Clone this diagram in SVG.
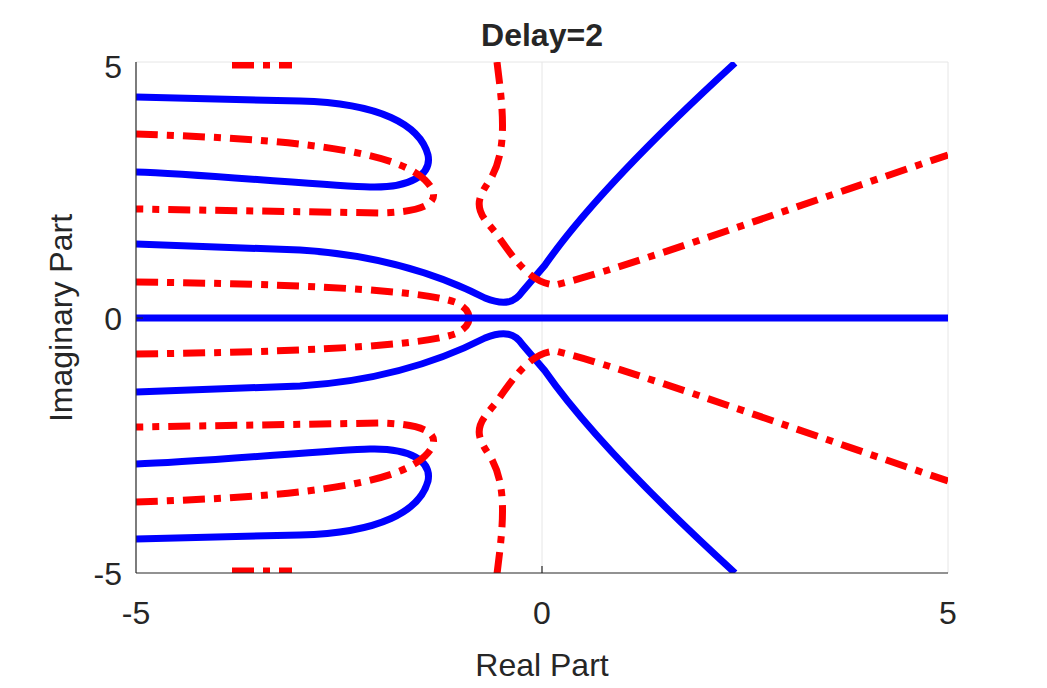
<svg xmlns="http://www.w3.org/2000/svg" width="1047" height="688" viewBox="0 0 1047 688">
<style>
.b{fill:none;stroke:#0000ff;stroke-width:7}
.r{fill:none;stroke:#ff0000;stroke-width:7;stroke-dasharray:22,9,7,9}
.t{font-family:"Liberation Sans",Arial,sans-serif;font-size:32px;fill:#262626}
</style>
<defs><clipPath id="c"><rect x="136" y="62" width="812" height="511"/></clipPath>
<g id="half">
<path class="b" d="M136,97 L300,101 C380,103 420,125 428,155 C432,175 410,188 370,187 C330,186 200,174 136,172"/>
<path class="b" d="M136,244 L300,250 C380,255 440,275 485,298 C505,306 515,302 522,292 L545,265 C580,215 640,150 735,63"/>
<path class="r" d="M232,65 L292,65"/>
<path class="r" d="M136,134 C250,138 390,145 425,180 C445,200 430,212 380,213 L136,209"/>
<path class="r" d="M136,282 C300,284 420,290 455,302 C468,308 470,315 468,318"/>
<path class="r" d="M497,62 C503,110 508,150 490,180 C472,205 478,212 495,232 C515,260 530,283 555,285 C620,270 800,205 948,155"/>
</g></defs>
<rect width="1047" height="688" fill="#fff"/>
<g id="axes">
<line x1="542" y1="62" x2="542" y2="573" stroke="#e6e6e6" stroke-width="1"/>
<line x1="136" y1="62" x2="948" y2="62" stroke="#e6e6e6" stroke-width="1"/>
<line x1="948" y1="62" x2="948" y2="573" stroke="#e6e6e6" stroke-width="1"/>
</g>
<g id="curves" clip-path="url(#c)">
<use href="#half"/>
<use href="#half" transform="matrix(1,0,0,-1,0,636)"/>
<line class="b" x1="136" y1="318" x2="948" y2="318"/>
</g>
<g id="frame" stroke="#262626" stroke-width="1.2">
<line x1="136" y1="62" x2="136" y2="573"/>
<line x1="136" y1="573" x2="948" y2="573"/>
<line x1="136" y1="318" x2="143" y2="318"/>
<line x1="542" y1="573" x2="542" y2="566"/>
</g>
<g id="labels">
<text class="t" x="122" y="78" text-anchor="end">5</text>
<text class="t" x="122" y="330" text-anchor="end">0</text>
<text class="t" x="122" y="585" text-anchor="end">-5</text>
<text class="t" x="136" y="624" text-anchor="middle">-5</text>
<text class="t" x="542" y="624" text-anchor="middle">0</text>
<text class="t" x="948" y="624" text-anchor="middle">5</text>
<text class="t" x="542" y="676" text-anchor="middle" font-size="36">Real Part</text>
<text class="t" transform="translate(72,318) rotate(-90)" text-anchor="middle" font-size="36">Imaginary Part</text>
<text class="t" x="542" y="46" text-anchor="middle" font-weight="bold" fill="#000" font-size="34">Delay=2</text>
</g>
</svg>
